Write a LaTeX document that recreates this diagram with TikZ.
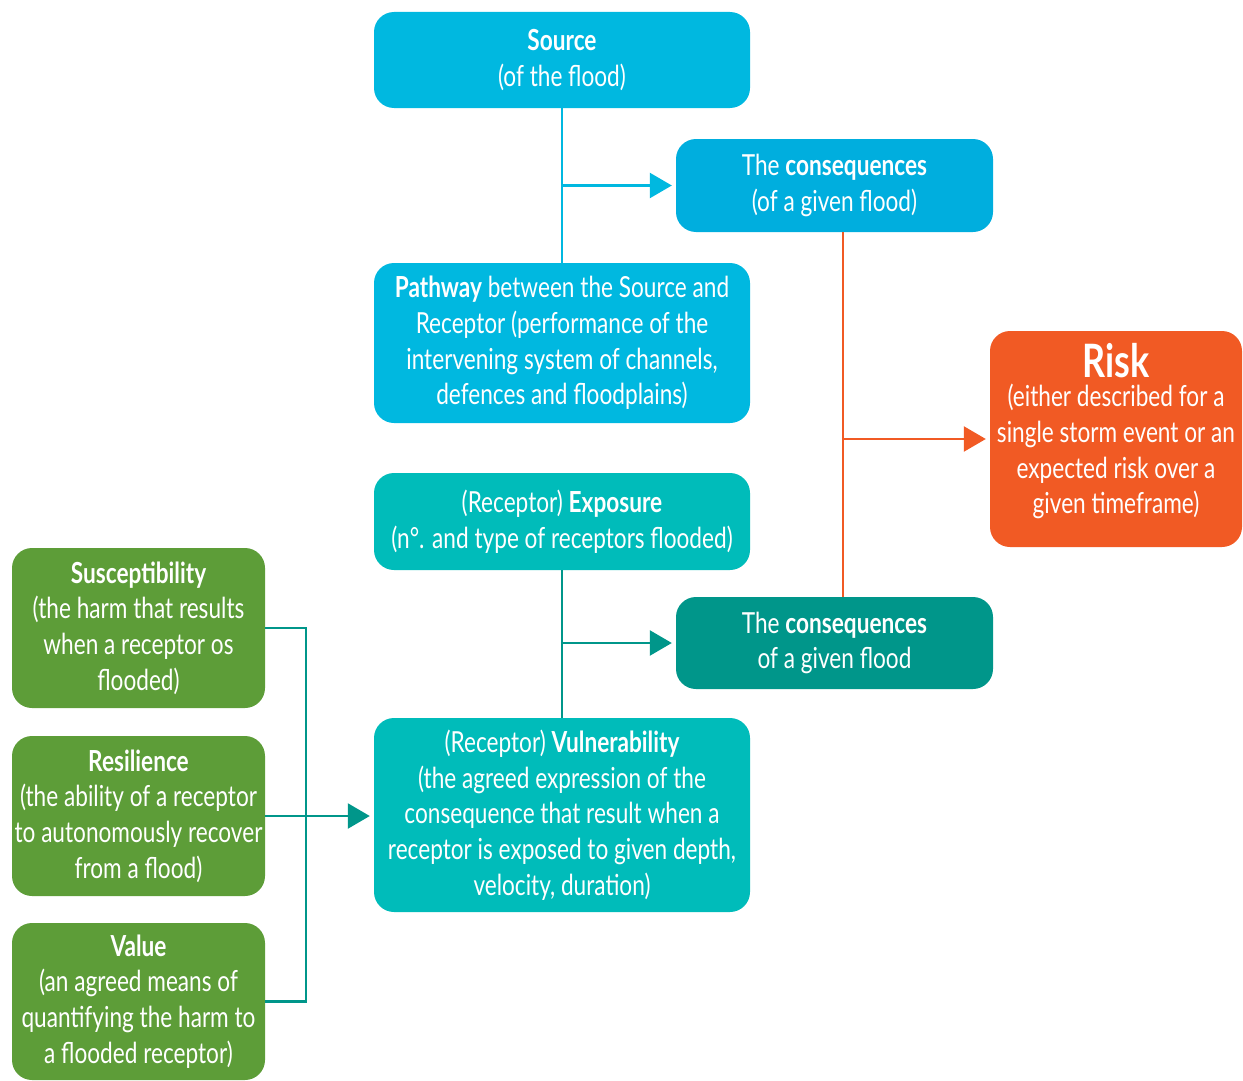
\documentclass[tikz,border=0pt]{standalone}
\usepackage{fontspec}
\setmainfont{Lato}[FakeStretch=0.78]
\usepackage{xcolor}
\usetikzlibrary{arrows.meta,calc,positioning}

\definecolor{srcblue}{RGB}{0,184,224}
\definecolor{conblue}{RGB}{0,174,222}
\definecolor{rcpteal}{RGB}{0,188,186}
\definecolor{condteal}{RGB}{0,150,138}
\definecolor{vgreen}{RGB}{93,157,56}
\definecolor{riskor}{RGB}{241,90,36}

\begin{document}
\begin{tikzpicture}[x=1pt,y=-1pt,
  box/.style={rectangle,rounded corners=20pt,text=white,align=center,inner sep=0pt,
    font=\fontsize{29}{35.7}\selectfont},
  link/.style={line width=2.4pt},
  tip/.style={link,-{Triangle[length=22pt,width=25pt]},shorten >=4pt}]
\useasboundingbox (0,0) rectangle (1243,1081);
% column of source / pathway / receptor
\node [box,fill=srcblue,minimum width=376pt,minimum height=96pt] (source) at (562,60)
  {\textbf{Source}\\(of the flood)};
\node [box,fill=conblue,minimum width=317pt,minimum height=93pt] (conseqA) at (834.5,185.5)
  {The \textbf{consequences}\\(of a given flood)};
\node [box,fill=srcblue,minimum width=376pt,minimum height=160pt] (pathway) at (562,343)
  {\textbf{Pathway} between the Source and\\Receptor (performance of the\\intervening system of channels,\\defences and floodplains)};
\node [box,fill=riskor,minimum width=252pt,minimum height=216pt] (risk) at (1116,439) {};
\node [box] (risktext) at ($(risk)+(0,-8)$)
  {{\fontsize{46}{46}\selectfont\textbf{Risk}}\\[-6pt](either described for a\\single storm event or an\\expected risk over a\\given timeframe)};
\node [box,fill=rcpteal,minimum width=376pt,minimum height=97pt] (exposure) at (562,521.5)
  {(Receptor) \textbf{Exposure}\\(n°. and type of receptors flooded)};
\node [box,fill=condteal,minimum width=317pt,minimum height=92pt] (conseqB) at (834.5,643)
  {The \textbf{consequences}\\of a given flood};
\node [box,fill=rcpteal,minimum width=376pt,minimum height=194pt] (vuln) at (562,815)
  {(Receptor) \textbf{Vulnerability}\\(the agreed expression of the\\consequence that result when a\\receptor is exposed to given depth,\\velocity, duration)};
% green column
\node [box,fill=vgreen,minimum width=253pt,minimum height=160pt] (suscept) at (138.5,628)
  {\textbf{Susceptibility}\\(the harm that results\\when a receptor os\\flooded)};
\node [box,fill=vgreen,minimum width=253pt,minimum height=160pt] (resil) at (138.5,816)
  {\textbf{Resilience}\\(the ability of a receptor\\to autonomously recover\\from a flood)};
\node [box,fill=vgreen,minimum width=253pt,minimum height=157pt] (value) at (138.5,1001.5)
  {\textbf{Value}\\(an agreed means of\\quantifying the harm to\\a flooded receptor)};
% connectors
\coordinate (oline) at (843,0);
\coordinate (gline) at (306,0);
\draw [link,srcblue] (source) -- (pathway);
\draw [tip,srcblue] (source.south |- conseqA) -- (conseqA.west);
\draw [link,riskor] (conseqA.south -| oline) -- (conseqB.north -| oline);
\draw [tip,riskor] (oline |- risk) -- (risk.west);
\draw [link,condteal] (exposure) -- (vuln);
\draw [tip,condteal] (exposure.south |- conseqB) -- (conseqB.west);
\draw [link,condteal] (suscept.east) -- (gline |- suscept.east) -- (gline |- value.east) -- (value.east);
\draw [tip,condteal] (resil.east) -- (vuln.west |- resil.east);
\end{tikzpicture}
\end{document}
